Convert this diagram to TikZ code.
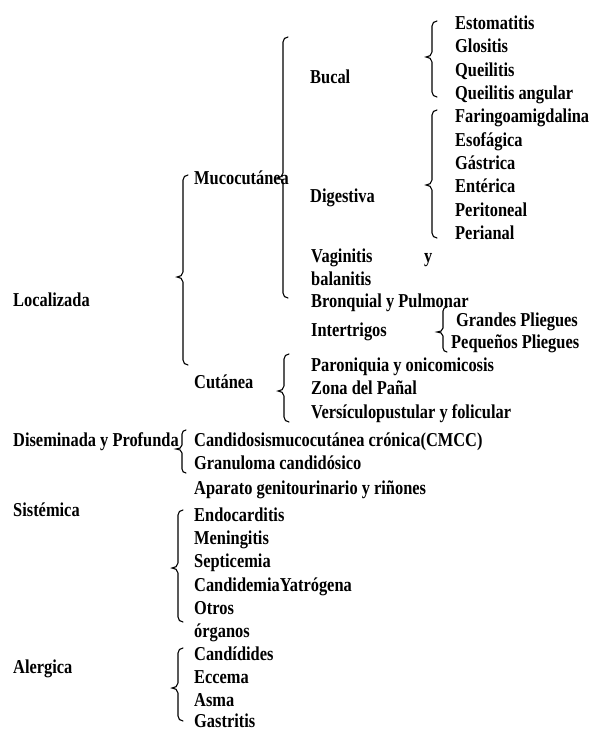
\documentclass[tikz,border=0pt]{standalone}
\usepackage{fontspec}
\usepackage{graphicx}
\setmainfont{Liberation Serif}
\newcommand\tx[1]{\scalebox{1}[1.2]{#1}}
\newcommand\mybrace[5]{%
  \draw[bracestyle] ({#1+#5},#2) to[out=180,in=90] (#1,{#2+#5}) -- (#1,{#3-#5})
    to[out=-90,in=0] ({#1-6},#3) to[out=0,in=90] (#1,{#3+#5}) -- (#1,{#4-#5})
    to[out=-90,in=180] ({#1+#5},#4);}
\tikzset{
  lbl/.style={anchor=base west, inner sep=0pt, font=\bfseries\fontsize{16.4}{18}\selectfont},
  bracestyle/.style={line width=1.1pt, line cap=round}
}
\begin{document}
\begin{tikzpicture}[x=1pt,y=-1pt]
\useasboundingbox (0,0) rectangle (592,730);
% level 1
\node[lbl] (loc) at (13,306.5) {\tx{Localizada}};
\node[lbl] (dis) at (13,446.5) {\tx{Diseminada y Profunda}};
\node[lbl] (sis) at (13,516.5) {\tx{Sistémica}};
\node[lbl] (ale) at (13,673.5) {\tx{Alergica}};
% level 2
\node[lbl] (muc) at (194,184.5) {\tx{Mucocutánea}};
\node[lbl] (cut) at (194,388.5) {\tx{Cutánea}};
\node[lbl] (cmcc) at (194,446.5) {\tx{Candidosismucocutánea crónica(CMCC)}};
\node[lbl] (gra) at (194,469.5) {\tx{Granuloma candidósico}};
\node[lbl] (apa) at (194,494.5) {\tx{Aparato genitourinario y riñones}};
\node[lbl] (endo) at (194,521.5) {\tx{Endocarditis}};
\node[lbl] (men) at (194,544.5) {\tx{Meningitis}};
\node[lbl] (sep) at (194,567.5) {\tx{Septicemia}};
\node[lbl] (cand) at (194,591.5) {\tx{CandidemiaYatrógena}};
\node[lbl] (otr) at (194,614.5) {\tx{Otros}};
\node[lbl] (org) at (194,637.5) {\tx{órganos}};
\node[lbl] (cdd) at (194,660.5) {\tx{Candídides}};
\node[lbl] (ecc) at (194,683.5) {\tx{Eccema}};
\node[lbl] (asm) at (194,706.5) {\tx{Asma}};
\node[lbl] (gas) at (194,727) {\tx{Gastritis}};
% level 3
\node[lbl] (buc) at (310,83.5) {\tx{Bucal}};
\node[lbl] (dig) at (310,202.5) {\tx{Digestiva}};
\node[lbl] (vag) at (311,262.5) {\tx{Vaginitis}};
\node[lbl] (vy) at (424,262.5) {\tx{y}};
\node[lbl] (bal) at (311,285.5) {\tx{balanitis}};
\node[lbl] (bro) at (311,307.5) {\tx{Bronquial y Pulmonar}};
\node[lbl] (int) at (311,336.5) {\tx{Intertrigos}};
\node[lbl] (par) at (311,371.5) {\tx{Paroniquia y onicomicosis}};
\node[lbl] (zon) at (311,394.5) {\tx{Zona del Pañal}};
\node[lbl] (ver) at (311,418.5) {\tx{Versículopustular y folicular}};
% level 4
\node[lbl] (est) at (455,29.5) {\tx{Estomatitis}};
\node[lbl] (glo) at (455,52.5) {\tx{Glositis}};
\node[lbl] (que) at (455,76.5) {\tx{Queilitis}};
\node[lbl] (qan) at (455,99.5) {\tx{Queilitis angular}};
\node[lbl] (far) at (455,122.5) {\tx{Faringoamigdalina}};
\node[lbl] (eso) at (455,146.5) {\tx{Esofágica}};
\node[lbl] (gast) at (455,169.5) {\tx{Gástrica}};
\node[lbl] (ent) at (455,192.5) {\tx{Entérica}};
\node[lbl] (per) at (455,216.5) {\tx{Peritoneal}};
\node[lbl] (pan) at (455,239.5) {\tx{Perianal}};
\node[lbl] (gp) at (456,326.5) {\tx{Grandes Pliegues}};
\node[lbl] (pp) at (451,348.5) {\tx{Pequeños Pliegues}};
% braces
\mybrace{283}{37}{178}{298}{5}
\mybrace{183}{175}{277}{365}{5}
\mybrace{432}{21}{57}{97}{5}
\mybrace{432}{110}{185}{238}{5}
\mybrace{284}{354}{391}{422}{5}
\mybrace{443}{307}{332}{352}{4}
\mybrace{182}{430}{449}{473}{4}
\mybrace{178}{510}{568}{622}{5}
\mybrace{178}{648}{688}{721}{5}
\end{tikzpicture}
\end{document}
